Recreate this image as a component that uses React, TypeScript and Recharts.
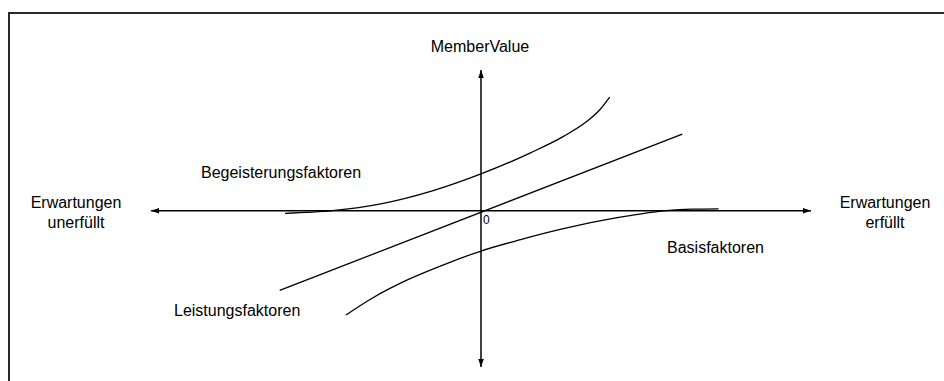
import { ComposedChart, Line, XAxis, YAxis } from 'recharts';

// Kano-Modell: Achsen und Kurven in Datenkoordinaten
const xAxisLine = [
  { x: -10, y: 0 },
  { x: 10, y: 0 },
];
const yAxisLine = [
  { x: 0, y: -10 },
  { x: 0, y: 9 },
];

const leistung = [
  { x: -6.1, y: -5.1 },
  { x: 6.1, y: 4.9 },
];

const begeisterung = [
  { x: -5.94, y: -0.17 },
  { x: -4.5, y: 0 },
  { x: -3, y: 0.45 },
  { x: -1.5, y: 1.25 },
  { x: 0, y: 2.35 },
  { x: 1.5, y: 3.7 },
  { x: 2.5, y: 4.75 },
  { x: 3.2, y: 5.7 },
  { x: 3.6, y: 6.46 },
  { x: 3.9, y: 7.27 },
];

const basis = [
  { x: -4.09, y: -6.67 },
  { x: -3.3, y: -5.6 },
  { x: -2.2, y: -4.4 },
  { x: -1.0, y: -3.35 },
  { x: 0, y: -2.58 },
  { x: 1.2, y: -1.85 },
  { x: 2.4, y: -1.2 },
  { x: 3.6, y: -0.65 },
  { x: 4.8, y: -0.22 },
  { x: 5.6, y: 0 },
  { x: 6.4, y: 0.1 },
  { x: 7.2, y: 0.12 },
];

const font = '"Liberation Sans", Arial, sans-serif';

export default function App() {
  return (
    <div style={{ position: 'fixed', left: 0, top: 0, width: 944, height: 381, overflow: 'hidden', background: '#fff' }}>
      {/* Rahmen */}
      <div
        style={{
          position: 'absolute',
          left: 8,
          top: 12,
          width: 1000,
          height: 500,
          borderTop: '2px solid #2a2a2a',
          borderLeft: '2px solid #2a2a2a',
        }}
      />
      <ComposedChart
        width={944}
        height={381}
        margin={{ top: 70, right: 133, bottom: 14, left: 151 }}
        style={{ position: 'absolute', left: 0, top: 0 }}
      >
        <defs>
          <marker id="arrow" viewBox="0 0 10 10" refX="10" refY="5" markerWidth="8" markerHeight="8" markerUnits="userSpaceOnUse" orient="auto-start-reverse">
            <path d="M0,1.5 L10,5 L0,8.5 z" fill="#000" />
          </marker>
        </defs>
        <XAxis type="number" dataKey="x" domain={[-10, 10]} hide />
        <YAxis type="number" domain={[-10, 9]} hide />
        <Line data={xAxisLine} dataKey="y" type="linear" stroke="#000" strokeWidth={1.5} dot={false} activeDot={false} markerStart="url(#arrow)" markerEnd="url(#arrow)" isAnimationActive={false} />
        <Line data={yAxisLine} dataKey="y" type="linear" stroke="#000" strokeWidth={1.5} dot={false} activeDot={false} markerStart="url(#arrow)" markerEnd="url(#arrow)" isAnimationActive={false} />
        <Line data={leistung} dataKey="y" type="linear" stroke="#000" strokeWidth={1.3} dot={false} activeDot={false} isAnimationActive={false} />
        <Line data={begeisterung} dataKey="y" type="monotone" stroke="#000" strokeWidth={1.3} dot={false} activeDot={false} isAnimationActive={false} />
        <Line data={basis} dataKey="y" type="monotone" stroke="#000" strokeWidth={1.3} dot={false} activeDot={false} isAnimationActive={false} />
      </ComposedChart>
      <svg width={944} height={381} style={{ position: 'absolute', left: 0, top: 0, pointerEvents: 'none' }}>
        <g fontFamily={font} fontSize={16} fill="#000">
          <text x={480} y={52} textAnchor="middle">MemberValue</text>
          <text x={76} y={208} textAnchor="middle">Erwartungen</text>
          <text x={76} y={228} textAnchor="middle">unerfüllt</text>
          <text x={885} y={208} textAnchor="middle">Erwartungen</text>
          <text x={885} y={228} textAnchor="middle">erfüllt</text>
          <text x={201} y={178}>Begeisterungsfaktoren</text>
          <text x={174} y={316}>Leistungsfaktoren</text>
          <text x={667} y={253}>Basisfaktoren</text>
          <text x={483} y={224} fontSize={12}>0</text>
        </g>
      </svg>
    </div>
  );
}
